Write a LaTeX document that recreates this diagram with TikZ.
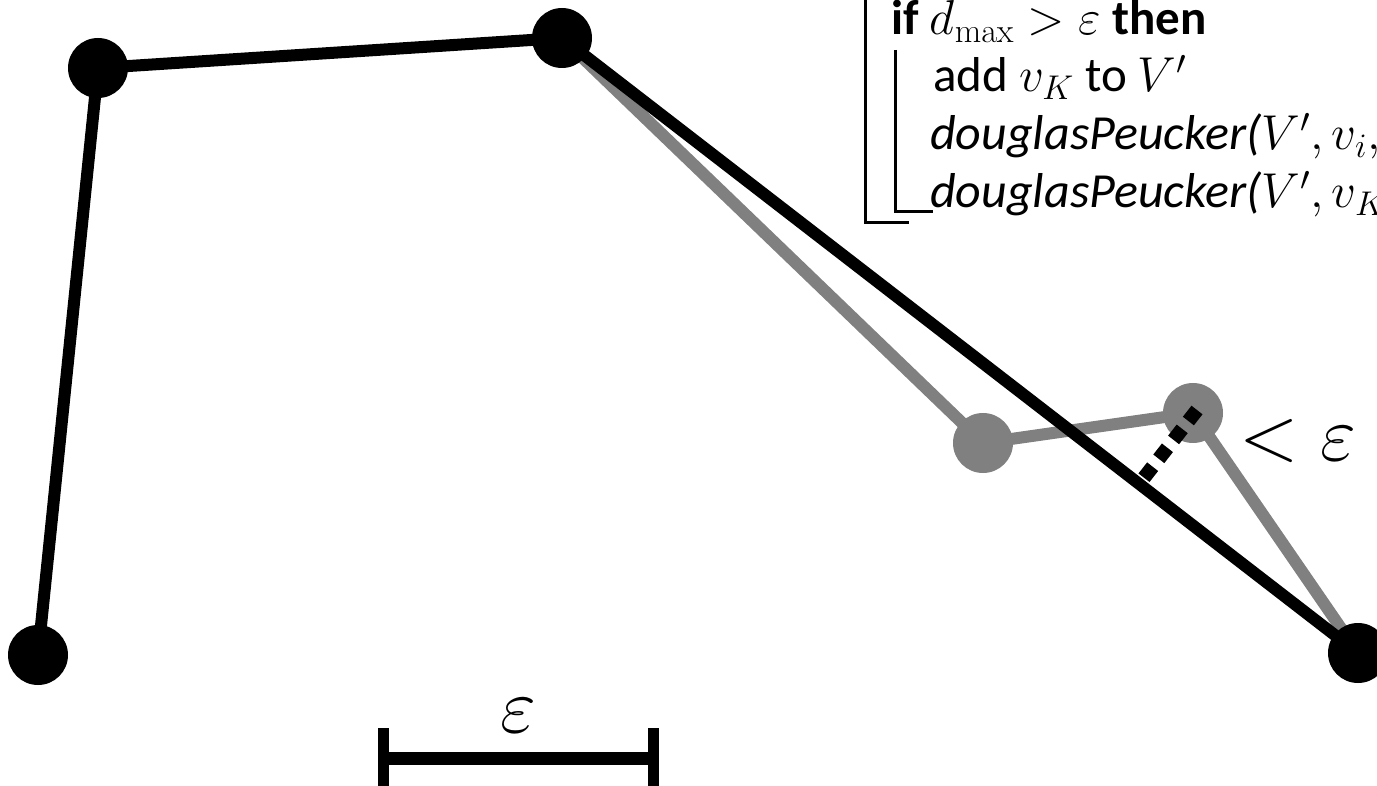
\RequirePackage{fix-cm}
\documentclass[tikz,border=0pt]{standalone}
\usepackage[no-math]{fontspec}
\setmainfont{Carlito}
\newfontfamily\dpfam{Carlito}[FakeStretch=1.02]
\usetikzlibrary{backgrounds}
\definecolor{pgrey}{RGB}{128,128,128}
\tikzset{
  blackpt/.style={circle, fill=black, minimum size=60pt, inner sep=0pt},
  greypt/.style={circle, fill=pgrey, minimum size=60pt, inner sep=0pt},
  blackseg/.style={line width=12pt, black},
  greyseg/.style={line width=12pt, pgrey},
  algtext/.style={anchor=base west, inner sep=0pt, font=\fontsize{49}{58}\selectfont},
  bigmath/.style={inner sep=0pt, font=\fontsize{78}{90}\selectfont},
  bracketline/.style={line width=3pt, black},
}
\newcommand{\dpname}{{\dpfam\itshape douglasPeucker(}}
\begin{document}
\begin{tikzpicture}[x=1pt,y=-1pt]
\useasboundingbox (0,0) rectangle (1377,786);
\clip (0,0) rectangle (1377,786);
% points
\node[blackpt] (A) at (38,655) {};
\node[blackpt] (B) at (98,68) {};
\node[blackpt] (C) at (562,38) {};
\node[greypt] (D) at (983,443) {};
\node[greypt] (E) at (1193,413) {};
\node[blackpt] (F) at (1358,653) {};
\begin{scope}[on background layer]
  \draw[greyseg] (C.center) -- (D.center) -- (E.center) -- (F.center);
  \draw[blackseg] (A.center) -- (B.center) -- (C.center) -- (F.center);
\end{scope}
% dotted distance
\coordinate (d1) at (1197,410);
\coordinate (d2) at (1143,479);
\draw[line width=14pt, dash pattern=on 14pt off 10pt] (d1) -- (d2);
\node[bigmath, anchor=base west] (lt) at (1239,460) {$<\varepsilon$};
% scale bar
\coordinate (s1) at (383,758);
\coordinate (s2) at (653,758);
\draw[line width=13pt] (s1) -- (s2);
\draw[line width=11pt] (383,728) -- (383,800);
\draw[line width=11pt] (653,728) -- (653,800);
\node[bigmath, anchor=base] (eps) at (518,732) {$\varepsilon$};
% algorithm
\draw[bracketline] (865,-5) -- (865,223) -- (909,223);
\draw[bracketline] (895,50) -- (895,212) -- (933,212);
\node[algtext] (l1) at (891,35) {\textbf{if} $d_{\max}>\varepsilon$ \textbf{then}};
\node[algtext] (l2) at (933,92) {add $v_K$ to $V'$};
\node[algtext] (l3) at (930,150) {\dpname$V',v_i,$};
\node[algtext] (l4) at (930,208) {\dpname$V',v_K,$};
\end{tikzpicture}
\end{document}
